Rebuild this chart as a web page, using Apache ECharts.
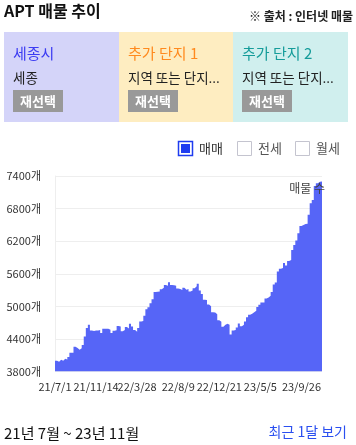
<!DOCTYPE html>
<html>
<head>
<meta charset="utf-8">
<script src="https://cdn.jsdelivr.net/npm/echarts@6/dist/echarts.min.js"></script>
<style>
html,body{margin:0;padding:0;background:#fff;}
#c{width:356px;height:445px;}
</style>
</head>
<body>
<div id="c"></div>
<script>
// tick labels on the x axis (one every 20 points)
const tickLabels = ['21/7/1','21/11/14','22/3/28','22/8/9','22/12/21','23/5/5','23/9/26'];
const labelStep = 20;
// listing counts (매물 수)
const listings = [
  4000,3980,4015,4000,4035,4020,4065,4145,4145,4255,
  4235,4200,4230,4290,4445,4600,4660,4555,4545,4555,
  4555,4565,4510,4585,4585,4585,4570,4510,4550,4560,
  4640,4630,4540,4565,4620,4590,4677,4630,4565,4530,
  4600,4720,4730,4825,4948,4985,5058,5130,5265,5270,
  5275,5315,5340,5395,5380,5445,5395,5390,5380,5327,
  5320,5303,5340,5305,5320,5272,5290,5335,5370,5414,
  5290,5225,5120,5115,5033,5000,4893,4885,4855,4745,
  4715,4625,4660,4677,4660,4480,4555,4565,4610,4683,
  4635,4660,4720,4800,4845,4862,4893,4920,4990,5027,
  5070,5070,5145,5162,5193,5266,5400,5438,5640,5690,
  5708,5800,5750,5836,5855,6038,6130,6210,6346,6480,
  6500,6517,6520,6688,6897,6958,7215,7265,7295,7300,
  7380
];
const yMin = 3800, yMax = 7400, yStep = 600;
const panels = [
  {title:'세종시', sub:'세종'},
  {title:'추가 단지 1', sub:'지역 또는 단지...'},
  {title:'추가 단지 2', sub:'지역 또는 단지...'}
];
const legendItems = ['매매','전세','월세'];

const categories = listings.map((_, i) => (i % labelStep === 0 ? tickLabels[i / labelStep] : String(i)));

const FONT = '"Noto Sans CJK KR","Noto Sans",sans-serif';
const panelBg = ['#d4d4f9','#feedc1','#d0efee'];
const panelTitleColor = ['#3c3cf2','#ff8a1e','#159c9a'];
const panelX = [4, 119, 233];
const panelW = [115, 114, 115];

const graphics = [];
graphics.push({type:'text', x:4, y:11, style:{text:'APT 매물 추이', font:'bold 16px '+FONT, fill:'#111', textVerticalAlign:'middle'}});
graphics.push({type:'text', x:353, y:16, style:{text:'※ 출처 : 인터넷 매물', font:'bold 12px '+FONT, fill:'#222', textAlign:'right', textVerticalAlign:'middle'}});
panels.forEach((p, k) => {
  graphics.push({type:'rect', shape:{x:panelX[k], y:32, width:panelW[k], height:90}, style:{fill:panelBg[k]}});
  graphics.push({type:'text', x:panelX[k]+9, y:53, style:{text:p.title, font:'15px '+FONT, fill:panelTitleColor[k], textVerticalAlign:'middle'}});
  graphics.push({type:'text', x:panelX[k]+9, y:77.5, style:{text:p.sub, font:'13.5px '+FONT, fill:'#222', textVerticalAlign:'middle'}});
  graphics.push({type:'rect', shape:{x:panelX[k]+9, y:90, width:50, height:22}, style:{fill:'#999'}});
  graphics.push({type:'text', x:panelX[k]+34, y:101, style:{text:'재선택', font:'bold 13px '+FONT, fill:'#fff', textAlign:'center', textVerticalAlign:'middle'}});
});
const legX = [178, 237, 295];
legendItems.forEach((t, k) => {
  if (k === 0) {
    graphics.push({type:'rect', shape:{x:legX[k]+0.5, y:141.5, width:14, height:14}, style:{fill:'#fff', stroke:'#1f3cf0', lineWidth:1.5}});
    graphics.push({type:'rect', shape:{x:legX[k]+3, y:144, width:9, height:9}, style:{fill:'#1f3cf0'}});
  } else {
    graphics.push({type:'rect', shape:{x:legX[k]+0.5, y:141.5, width:14, height:14}, style:{fill:'#fff', stroke:'#c4c4cf', lineWidth:1}});
  }
  graphics.push({type:'text', x:legX[k]+21, y:148.5, style:{text:t, font:'13px '+FONT, fill:k===0?'#333':'#555', textVerticalAlign:'middle'}});
});
graphics.push({type:'text', x:325, y:188, z:10, style:{text:'매물 수', font:'12px '+FONT, fill:'#444', textAlign:'right', textVerticalAlign:'middle'}});
graphics.push({type:'text', x:4, y:433, style:{text:'21년 7월 ~ 23년 11월', font:'15px '+FONT, fill:'#111', textVerticalAlign:'middle'}});
graphics.push({type:'text', x:347, y:432, style:{text:'최근 1달 보기', font:'14px '+FONT, fill:'#2a4ff0', textAlign:'right', textVerticalAlign:'middle'}});

const chart = echarts.init(document.getElementById('c'), null, {renderer:'canvas'});
chart.setOption({
  animation:false,
  textStyle:{fontFamily:FONT},
  grid:{left:55, right:34, top:176, bottom:73.5, containLabel:false},
  xAxis:{
    type:'category',
    data:categories,
    boundaryGap:false,
    axisLine:{show:false},
    axisTick:{show:false},
    axisLabel:{
      interval:labelStep-1,
      color:'#333',
      fontSize:11,
      margin:10,
      formatter:(v, i) => (i % labelStep === 0 ? tickLabels[i / labelStep] : '')
    },
    splitLine:{show:false}
  },
  yAxis:{
    type:'value',
    min:yMin, max:yMax, interval:yStep,
    axisLine:{show:true, lineStyle:{color:'#eee'}},
    axisTick:{show:false},
    axisLabel:{color:'#333', fontSize:11, margin:14, formatter:v => v + '개'},
    splitLine:{lineStyle:{color:'#eee'}}
  },
  series:[{
    name:'매물 수',
    type:'line',
    step:'end',
    data:listings,
    symbol:'none',
    lineStyle:{width:0, color:'#5665f7'},
    areaStyle:{color:'#5665f7', opacity:1, origin:'start'},
    itemStyle:{color:'#5665f7'}
  }],
  graphic:graphics
});
</script>
</body>
</html>
